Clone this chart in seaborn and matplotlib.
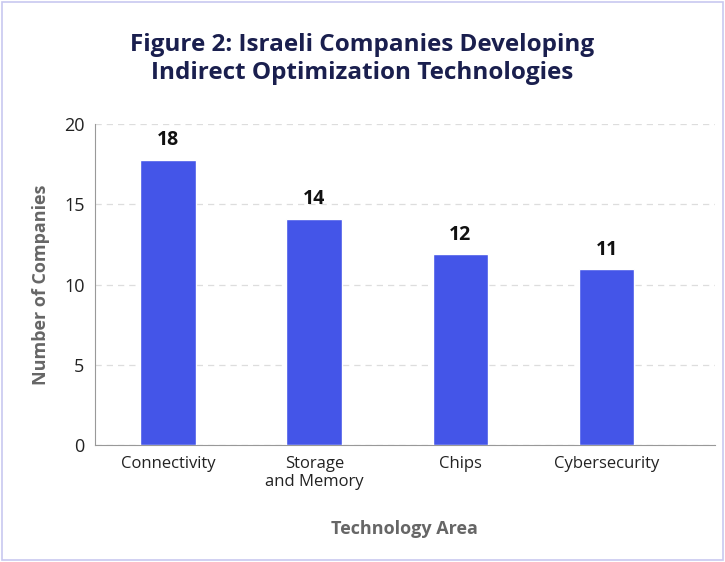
import matplotlib
matplotlib.use("Agg")
import matplotlib.pyplot as plt
import seaborn as sns
import pandas as pd

# chart data
areas = ["Connectivity", "Storage\nand Memory", "Chips", "Cybersecurity"]
companies = [18, 14, 12, 11]
bar_values = [17.8, 14.1, 11.9, 10.95]

sns.set_style("white")
plt.rcParams['font.family'] = ['Open Sans', 'DejaVu Sans']

df = pd.DataFrame({"Area": areas, "Count": bar_values})

fig = plt.figure(figsize=(7.25, 5.62), dpi=100)
ax = fig.add_axes([0.131, 0.208, 0.855, 0.571])
sns.barplot(data=df, x="Area", y="Count", color="#4455e8", saturation=1,
            width=0.38, ax=ax, zorder=3)

for i, v in enumerate(companies):
    ax.text(i, bar_values[i] + 0.6, str(v), ha="center", va="bottom",
            fontsize=14, fontweight="bold", color="#111111")

ax.set_ylim(0, 20)
ax.set_xlim(-0.5, 3.74)
ax.set_yticks([0, 5, 10, 15, 20])
ax.yaxis.grid(True, linestyle=(0, (5, 4)), color="#dddddd", linewidth=0.9, zorder=0)
for s in ["top", "right"]:
    ax.spines[s].set_visible(False)
ax.spines["left"].set_color("#999999")
ax.spines["bottom"].set_color("#999999")
ax.tick_params(axis="y", labelsize=13, colors="#222222", length=4, color="#999999")
ax.tick_params(axis="x", labelsize=12, colors="#222222", length=4, color="#999999")
for lbl in ax.get_yticklabels():
    lbl.set_color("#222222")

ax.set_ylabel("Number of Companies", fontsize=13, fontweight="bold", color="#666666", labelpad=10)
ax.set_xlabel("Technology Area", fontsize=13, fontweight="bold", color="#666666", labelpad=22)

fig.text(0.5, 0.895, "Figure 2: Israeli Companies Developing\nIndirect Optimization Technologies",
         ha="center", va="center", fontsize=17.5, fontweight="bold", color="#1a1f4e",
         linespacing=1.25)

fig.patches.append(plt.Rectangle((0.003, 0.003), 0.994, 0.994, transform=fig.transFigure,
                                 fill=False, edgecolor="#c8c8f0", linewidth=1.2))

fig.savefig("out.png", dpi=100)
